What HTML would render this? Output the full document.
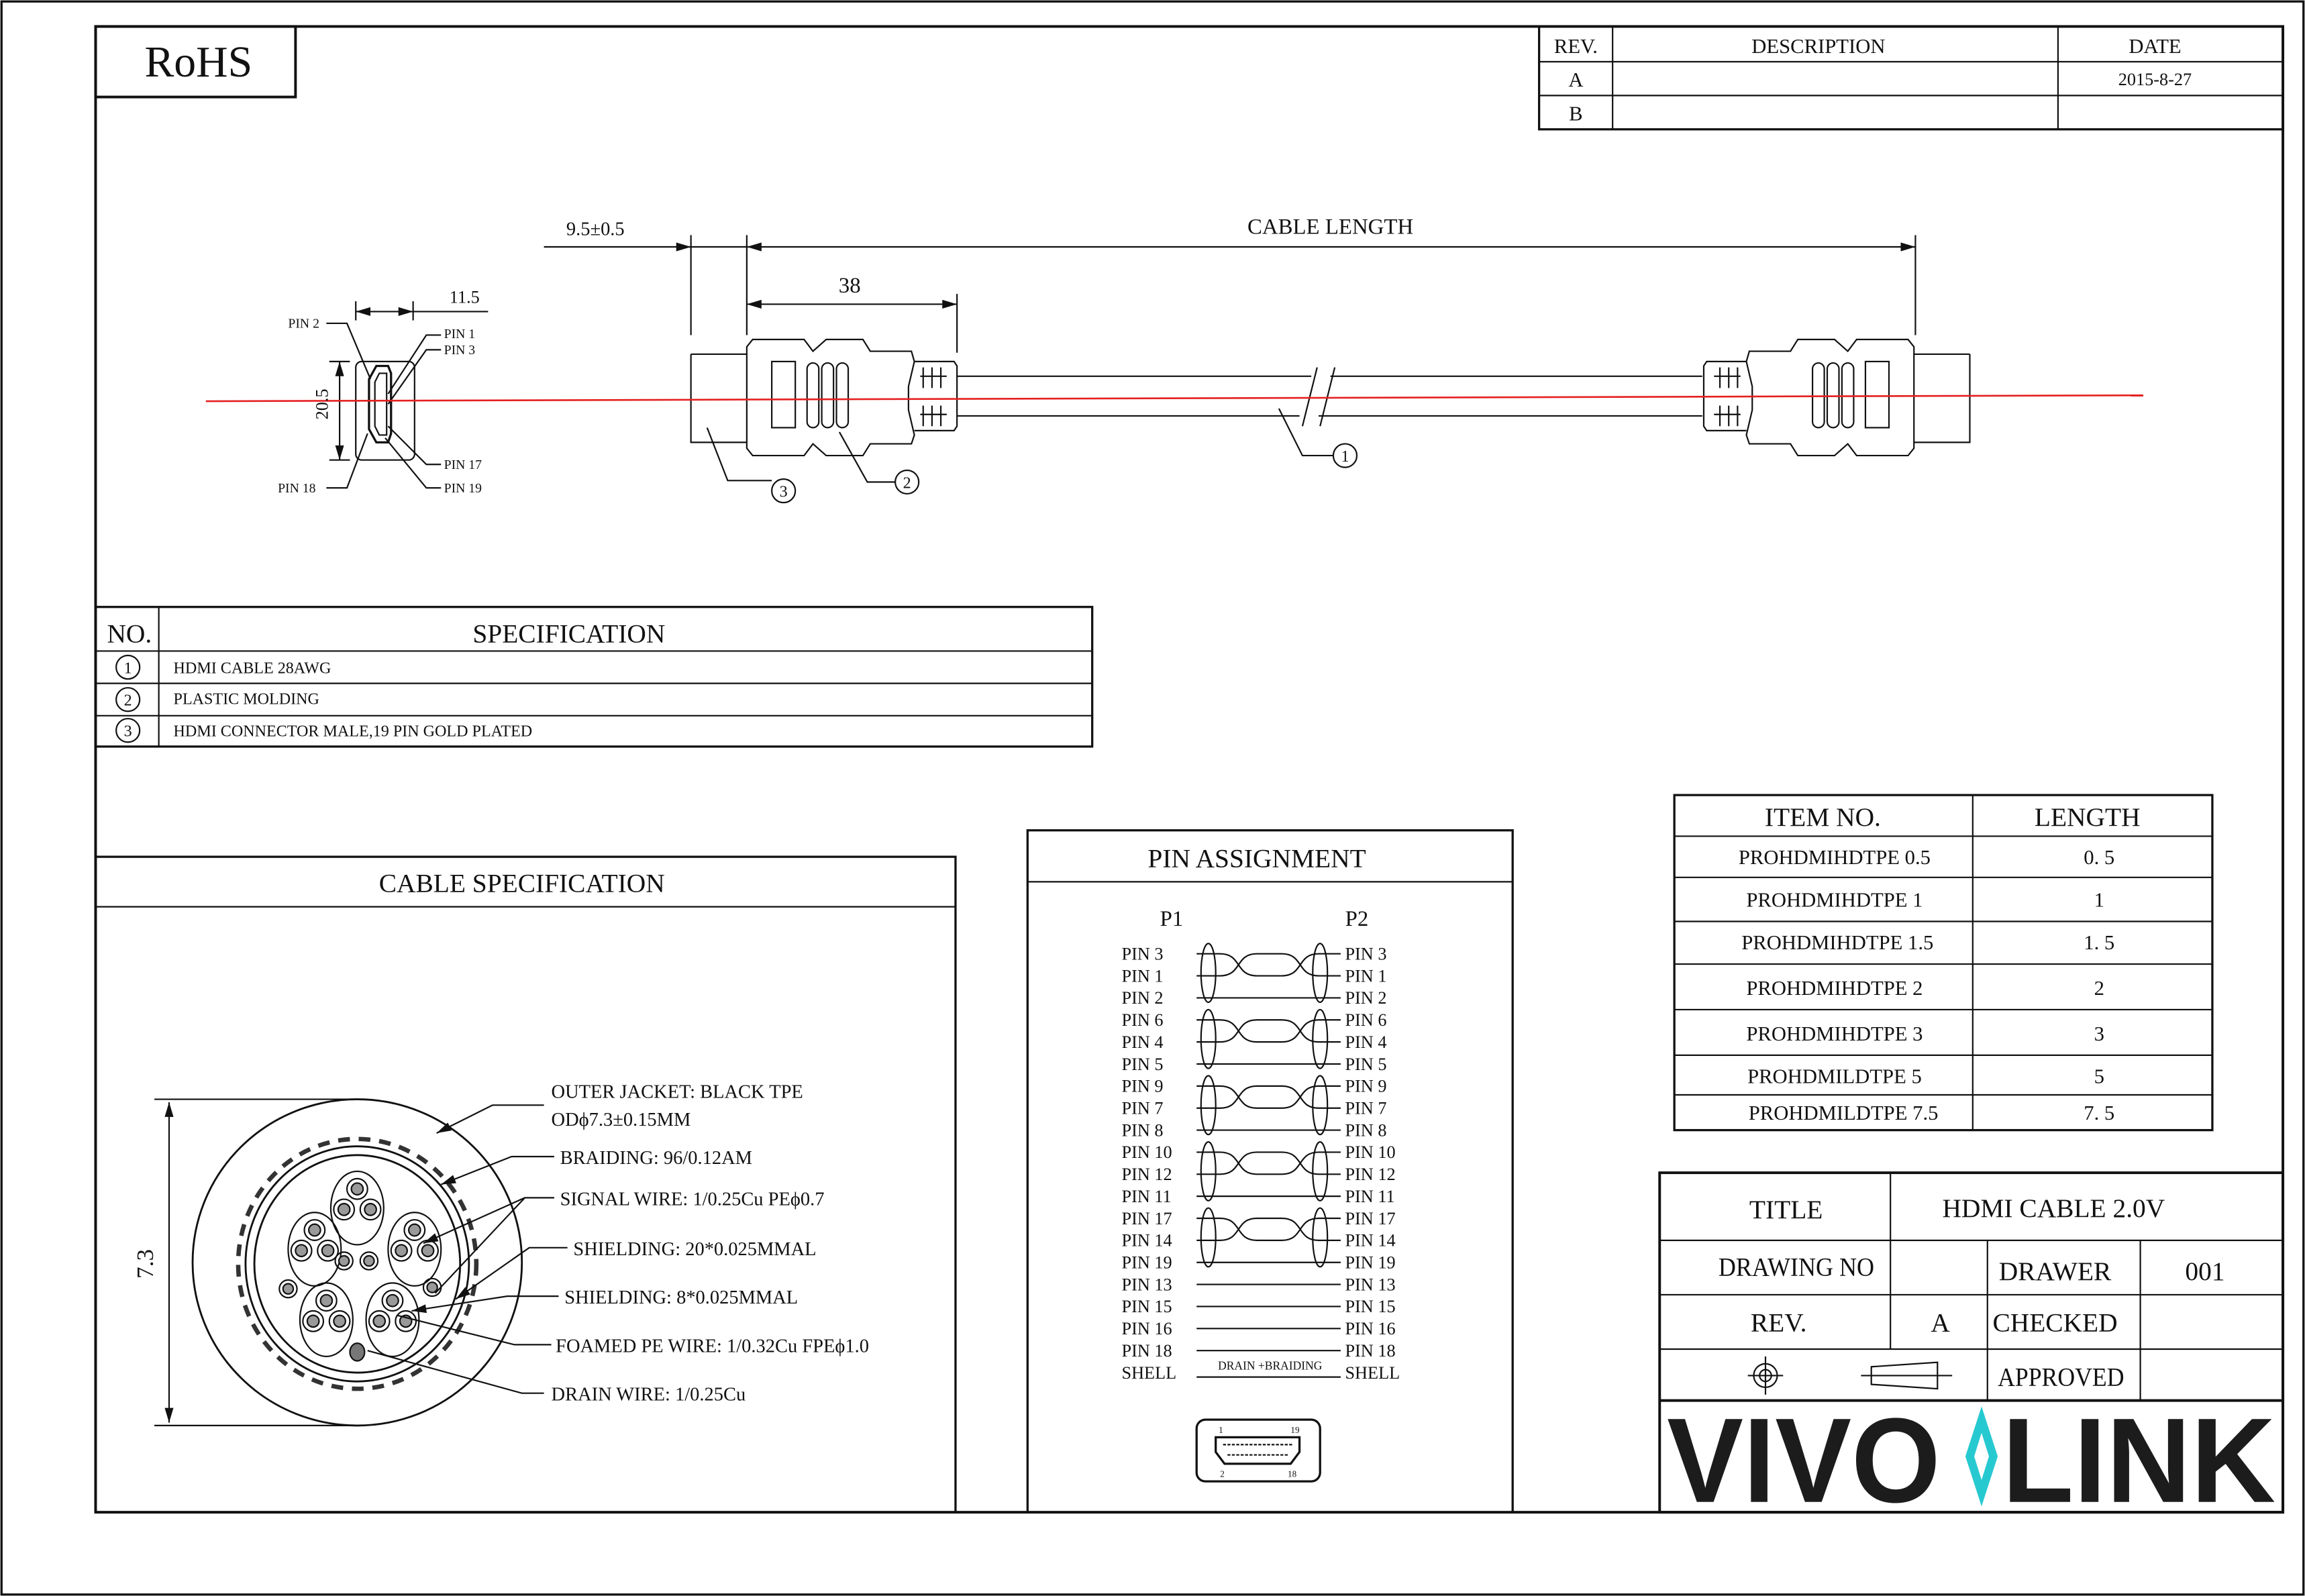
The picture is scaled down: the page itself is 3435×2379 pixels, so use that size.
<!DOCTYPE html>
<html><head><meta charset="utf-8"><style>
html,body{margin:0;padding:0;background:#fff}
svg{display:block}
text{font-family:"Liberation Serif","DejaVu Serif",serif;fill:#111}
.c{text-anchor:middle}
</style></head><body>
<svg width="3435" height="2379" viewBox="0 0 1568 1086" xmlns="http://www.w3.org/2000/svg">
<defs>
<marker id="ar" viewBox="0 0 10 6" refX="10" refY="3" markerWidth="10" markerHeight="6" orient="auto-start-reverse" markerUnits="userSpaceOnUse"><path d="M0,0 L10,3 L0,6 Z" fill="#111"/></marker>
</defs>
<g fill="none" stroke="#111">
<rect x="1" y="1" width="1566" height="1084" stroke-width="1.5"/>
<rect x="65" y="18" width="1488" height="1011" stroke-width="1.8"/>
<rect x="65" y="18" width="136" height="48" stroke-width="1.8"/>
<rect x="1047" y="18" width="506" height="70" stroke-width="1.5"/>
<line x1="1047" y1="42" x2="1553" y2="42"/><line x1="1047" y1="65" x2="1553" y2="65"/>
<line x1="1097" y1="18" x2="1097" y2="88"/><line x1="1400" y1="18" x2="1400" y2="88"/>
<rect x="65" y="413" width="678" height="95" stroke-width="1.5"/>
<line x1="65" y1="443" x2="743" y2="443"/><line x1="65" y1="465" x2="743" y2="465"/><line x1="65" y1="487" x2="743" y2="487"/>
<line x1="108" y1="413" x2="108" y2="508"/>
<circle cx="87" cy="454" r="8"/><circle cx="87" cy="476" r="8"/><circle cx="87" cy="497" r="8"/>
<rect x="65" y="583" width="585" height="446" stroke-width="1.5"/>
<line x1="65" y1="617" x2="650" y2="617"/>
<rect x="699" y="565" width="330" height="464" stroke-width="1.5"/>
<line x1="699" y1="600" x2="1029" y2="600"/>
<rect x="1139" y="541" width="366" height="228" stroke-width="1.5"/>
<line x1="1139" y1="569" x2="1505" y2="569"/><line x1="1139" y1="597" x2="1505" y2="597"/><line x1="1139" y1="627" x2="1505" y2="627"/><line x1="1139" y1="656" x2="1505" y2="656"/><line x1="1139" y1="687" x2="1505" y2="687"/><line x1="1139" y1="718" x2="1505" y2="718"/><line x1="1139" y1="745" x2="1505" y2="745"/>
<line x1="1342" y1="541" x2="1342" y2="769"/>
<rect x="1129" y="798" width="424" height="231" stroke-width="1.8"/>
<line x1="1129" y1="844" x2="1553" y2="844"/><line x1="1129" y1="881" x2="1553" y2="881"/><line x1="1129" y1="918" x2="1553" y2="918"/><line x1="1129" y1="953" x2="1553" y2="953" stroke-width="1.8"/>
<line x1="1286" y1="798" x2="1286" y2="918"/><line x1="1352" y1="844" x2="1352" y2="953"/><line x1="1456" y1="844" x2="1456" y2="953"/>
<circle cx="1201" cy="936" r="8"/><circle cx="1201" cy="936" r="4"/>
<line x1="1189" y1="936" x2="1213" y2="936"/><line x1="1201" y1="923" x2="1201" y2="949"/>
<path d="M1273,930 L1318,927 L1318,945 L1273,942 Z"/><line x1="1266" y1="936" x2="1328" y2="936"/>
</g>
<text x="1134" y="1022" font-weight="bold" font-size="82" textLength="186" lengthAdjust="spacingAndGlyphs" style="font-family:'Liberation Sans',sans-serif;fill:#1c1c1c">VIVO</text>
<path d="M1348,957 L1359,991 L1348,1025 L1337,991 Z M1348,975 L1343,991 L1348,1007 L1353,991 Z" fill="#27c9d1" fill-rule="evenodd"/>
<text x="1362" y="1022" font-weight="bold" font-size="82" textLength="186" lengthAdjust="spacingAndGlyphs" style="font-family:'Liberation Sans',sans-serif;fill:#1c1c1c">LINK</text>

<text x="135" y="52" class="c" font-size="30">RoHS</text>
<text x="1072" y="36" class="c" font-size="14">REV.</text>
<text x="1237" y="36" class="c" font-size="14">DESCRIPTION</text>
<text x="1466" y="36" class="c" font-size="14">DATE</text>
<text x="1072" y="59" class="c" font-size="14">A</text>
<text x="1466" y="58" class="c" font-size="12">2015-8-27</text>
<text x="1072" y="82" class="c" font-size="14">B</text>

<text x="88" y="437" class="c" font-size="18">NO.</text>
<text x="387" y="437" class="c" font-size="18">SPECIFICATION</text>
<text x="87" y="458" class="c" font-size="11">1</text><text x="87" y="480" class="c" font-size="11">2</text><text x="87" y="501" class="c" font-size="11">3</text>
<text x="118" y="458" font-size="11">HDMI CABLE 28AWG</text>
<text x="118" y="479" font-size="11">PLASTIC MOLDING</text>
<text x="118" y="501" font-size="11">HDMI CONNECTOR MALE,19 PIN GOLD PLATED</text>

<text x="355" y="607" class="c" font-size="18">CABLE SPECIFICATION</text>
<text x="855" y="590" class="c" font-size="18">PIN ASSIGNMENT</text>
<text x="797" y="630" class="c" font-size="15">P1</text>
<text x="923" y="630" class="c" font-size="15">P2</text>

<text x="1240" y="562" class="c" font-size="18">ITEM NO.</text>
<text x="1420" y="562" class="c" font-size="18">LENGTH</text>
<g font-size="14">
<text x="1248" y="588" class="c">PROHDMIHDTPE 0.5</text><text x="1428" y="588" class="c">0. 5</text>
<text x="1248" y="617" class="c">PROHDMIHDTPE 1</text><text x="1428" y="617" class="c">1</text>
<text x="1250" y="646" class="c">PROHDMIHDTPE 1.5</text><text x="1428" y="646" class="c">1. 5</text>
<text x="1248" y="677" class="c">PROHDMIHDTPE 2</text><text x="1428" y="677" class="c">2</text>
<text x="1248" y="708" class="c">PROHDMIHDTPE 3</text><text x="1428" y="708" class="c">3</text>
<text x="1248" y="737" class="c">PROHDMILDTPE 5</text><text x="1428" y="737" class="c">5</text>
<text x="1254" y="762" class="c">PROHDMILDTPE 7.5</text><text x="1428" y="762" class="c">7. 5</text>
</g>
<g font-size="18">
<text x="1215" y="829" class="c">TITLE</text>
<text x="1397" y="828" class="c">HDMI CABLE 2.0V</text>
<text x="1222" y="868" class="c" textLength="106" lengthAdjust="spacingAndGlyphs">DRAWING NO</text>
<text x="1398" y="871" class="c">DRAWER</text>
<text x="1500" y="871" class="c">001</text>
<text x="1210" y="906" class="c">REV.</text>
<text x="1320" y="906" class="c">A</text>
<text x="1398" y="906" class="c">CHECKED</text>
<text x="1402" y="943" class="c" textLength="86" lengthAdjust="spacingAndGlyphs">APPROVED</text>
</g>

<g stroke="#111" fill="none" stroke-width="1">
<line x1="370" y1="168" x2="470" y2="168" marker-end="url(#ar)"/>
<line x1="470" y1="168" x2="508" y2="168"/>
<line x1="508" y1="168" x2="1303" y2="168" marker-start="url(#ar)" marker-end="url(#ar)"/>
<line x1="470" y1="160" x2="470" y2="228"/><line x1="508" y1="160" x2="508" y2="228"/><line x1="1303" y1="160" x2="1303" y2="228"/>
<line x1="508" y1="207" x2="651" y2="207" marker-start="url(#ar)" marker-end="url(#ar)"/>
<line x1="651" y1="200" x2="651" y2="240"/>
<line x1="242" y1="212" x2="281" y2="212" marker-start="url(#ar)" marker-end="url(#ar)"/>
<line x1="281" y1="212" x2="332" y2="212"/>
<line x1="242" y1="205" x2="242" y2="218"/><line x1="281" y1="205" x2="281" y2="218"/>
<line x1="231" y1="246" x2="231" y2="313" marker-start="url(#ar)" marker-end="url(#ar)"/>
<line x1="224" y1="246" x2="238" y2="246"/><line x1="224" y1="313" x2="238" y2="313"/>
<rect x="242" y="246" width="40" height="67" rx="4"/>
<path d="M256,249 L264,249 L266,254 L266,295 L264,301 L256,301 L251,292 L251,258 Z" stroke-width="1.5"/>
<path d="M258,254 L263,254 L263,296 L258,296 L255,290 L255,260 Z"/>
<path d="M222,220 L236,220 L252,258 M222,332 L236,332 L250,295 M300,228 L290,228 L264,268 M300,238 L290,238 L264,275 M300,316 L290,316 L264,290 M300,332 L290,332 L262,298"/>
<path d="M470,241 L508,241 M470,241 L470,301 L508,301"/>
<path d="M508,236 L512,231 L547,231 L553,239 L562,231 L587,231 L592,239 L620,239 L622,246 L618,263 L618,279 L622,296 L620,302 L592,302 L587,310 L562,310 L553,302 L547,310 L512,310 L508,305 Z"/>
<rect x="525" y="246" width="16" height="45"/>
<rect x="549" y="247" width="8" height="44" rx="4"/><rect x="559" y="247" width="8" height="44" rx="4"/><rect x="569" y="247" width="8" height="44" rx="4"/>
<path d="M622,246 L649,246 L651,249 L651,290 L649,293 L622,293"/>
<path d="M628,250 v14 M634,250 v14 M640,250 v14 M628,276 v14 M634,276 v14 M640,276 v14 M626,256 h18 M626,282 h18"/>
<path d="M651,256 L892,256 M905,256 L1158,256 M651,283 L884,283 M897,283 L1158,283"/>
<path d="M886,290 L896,250 M898,290 L908,250"/>
<g transform="translate(1810,0) scale(-1,1)">
<path d="M470,241 L508,241 M470,241 L470,301 L508,301"/>
<path d="M508,236 L512,231 L547,231 L553,239 L562,231 L587,231 L592,239 L620,239 L622,246 L618,263 L618,279 L622,296 L620,302 L592,302 L587,310 L562,310 L553,302 L547,310 L512,310 L508,305 Z"/>
<rect x="525" y="246" width="16" height="45"/>
<rect x="549" y="247" width="8" height="44" rx="4"/><rect x="559" y="247" width="8" height="44" rx="4"/><rect x="569" y="247" width="8" height="44" rx="4"/>
<path d="M622,246 L649,246 L651,249 L651,290 L649,293 L622,293"/>
<path d="M628,250 v14 M634,250 v14 M640,250 v14 M628,276 v14 M634,276 v14 M640,276 v14 M626,256 h18 M626,282 h18"/>
</g>
<circle cx="533" cy="334" r="8"/><circle cx="617" cy="328" r="8"/><circle cx="915" cy="310" r="8"/>
<path d="M481,291 L495,327 L525,327 M571,294 L590,328 L609,328 M870,278 L886,310 L907,310"/>
</g>
<line x1="140" y1="273" x2="1458" y2="269" stroke="#e52020" stroke-width="1.2"/>
<text x="405" y="160" class="c" font-size="13">9.5±0.5</text>
<text x="905" y="159" class="c" font-size="15">CABLE LENGTH</text>
<text x="578" y="199" class="c" font-size="15">38</text>
<text x="316" y="206" class="c" font-size="12">11.5</text>
<text x="219" y="279" class="c" font-size="12" transform="rotate(-90 219 275)">20.5</text>
<g font-size="9">
<text x="196" y="223">PIN 2</text><text x="302" y="230">PIN 1</text><text x="302" y="241">PIN 3</text>
<text x="302" y="319">PIN 17</text><text x="302" y="335">PIN 19</text><text x="189" y="335">PIN 18</text>
</g>
<text x="533" y="338" class="c" font-size="11">3</text><text x="617" y="332" class="c" font-size="11">2</text><text x="915" y="314" class="c" font-size="11">1</text>

<g font-size="12">
<text x="763" y="653">PIN 3</text><text x="915" y="653">PIN 3</text>
<text x="763" y="668">PIN 1</text><text x="915" y="668">PIN 1</text>
<text x="763" y="683">PIN 2</text><text x="915" y="683">PIN 2</text>
<text x="763" y="698">PIN 6</text><text x="915" y="698">PIN 6</text>
<text x="763" y="713">PIN 4</text><text x="915" y="713">PIN 4</text>
<text x="763" y="728">PIN 5</text><text x="915" y="728">PIN 5</text>
<text x="763" y="743">PIN 9</text><text x="915" y="743">PIN 9</text>
<text x="763" y="758">PIN 7</text><text x="915" y="758">PIN 7</text>
<text x="763" y="773">PIN 8</text><text x="915" y="773">PIN 8</text>
<text x="763" y="788">PIN 10</text><text x="915" y="788">PIN 10</text>
<text x="763" y="803">PIN 12</text><text x="915" y="803">PIN 12</text>
<text x="763" y="818">PIN 11</text><text x="915" y="818">PIN 11</text>
<text x="763" y="833">PIN 17</text><text x="915" y="833">PIN 17</text>
<text x="763" y="848">PIN 14</text><text x="915" y="848">PIN 14</text>
<text x="763" y="863">PIN 19</text><text x="915" y="863">PIN 19</text>
<text x="763" y="878">PIN 13</text><text x="915" y="878">PIN 13</text>
<text x="763" y="893">PIN 15</text><text x="915" y="893">PIN 15</text>
<text x="763" y="908">PIN 16</text><text x="915" y="908">PIN 16</text>
<text x="763" y="923">PIN 18</text><text x="915" y="923">PIN 18</text>
<text x="763" y="938">SHELL</text><text x="915" y="938">SHELL</text>
</g>
<text x="864" y="932" class="c" font-size="8">DRAIN +BRAIDING</text>
<g fill="none" stroke="#111" stroke-width="1">
<g id="tp">
<path d="M814,649 L830,649 C845,649 840,664 855,664 L872,664 C887,664 882,649 897,649 L912,649"/>
<path d="M814,664 L830,664 C845,664 840,649 855,649 L872,649 C887,649 882,664 897,664 L912,664"/>
<line x1="814" y1="679" x2="912" y2="679"/>
<ellipse cx="822" cy="662" rx="5" ry="20"/><ellipse cx="898" cy="662" rx="5" ry="20"/>
</g>
<use href="#tp" y="45"/><use href="#tp" y="90"/><use href="#tp" y="135"/><use href="#tp" y="180"/>
<line x1="814" y1="874" x2="912" y2="874"/><line x1="814" y1="889" x2="912" y2="889"/><line x1="814" y1="904" x2="912" y2="904"/><line x1="814" y1="919" x2="912" y2="919"/>
<line x1="814" y1="937" x2="912" y2="937"/>
<rect x="814" y="966" width="84" height="42" rx="6" stroke-width="1.5"/>
<path d="M827,978 L884,978 L884,988 L878,996 L833,996 L827,988 Z" stroke-width="1.5"/>
<path d="M832,983 h47 M835,990 h41" stroke-dasharray="2 1"/>
</g>
<g font-size="6"><text x="829" y="975">1</text><text x="878" y="975">19</text><text x="830" y="1005">2</text><text x="876" y="1005">18</text></g>

<g fill="none" stroke="#111" stroke-width="1">
<line x1="105" y1="748" x2="245" y2="748"/><line x1="105" y1="970" x2="245" y2="970"/>
<line x1="115" y1="750" x2="115" y2="968" marker-start="url(#ar)" marker-end="url(#ar)"/>
<ellipse cx="243" cy="859" rx="112" ry="111" stroke-width="1.3"/>
<ellipse cx="243" cy="860" rx="81" ry="85" stroke-width="3" stroke-dasharray="8 6" stroke="#333"/>
<ellipse cx="243" cy="860" rx="76" ry="80" stroke-width="1.3"/>
<ellipse cx="243" cy="860" rx="70" ry="74" stroke-width="1.3"/>
<g id="grp">
<ellipse cx="243" cy="822" rx="18" ry="25"/>
<circle cx="243" cy="809" r="7"/><circle cx="234" cy="823" r="7"/><circle cx="252" cy="823" r="7"/>
<circle cx="243" cy="809" r="4" fill="#999"/><circle cx="234" cy="823" r="4" fill="#999"/><circle cx="252" cy="823" r="4" fill="#999"/>
</g>
<use href="#grp" x="-29" y="28"/><use href="#grp" x="39" y="28"/><use href="#grp" x="-21" y="76"/><use href="#grp" x="24" y="76"/>
<circle cx="234" cy="858" r="6"/><circle cx="251" cy="858" r="6"/><circle cx="196" cy="877" r="6"/><circle cx="294" cy="876" r="6"/>
<circle cx="234" cy="858" r="3.5" fill="#999"/><circle cx="251" cy="858" r="3.5" fill="#999"/><circle cx="196" cy="877" r="3.5" fill="#999"/><circle cx="294" cy="876" r="3.5" fill="#999"/>
<ellipse cx="243" cy="920" rx="5" ry="6" fill="#777"/>
<path d="M370,752 L335,752 L297,771" marker-end="url(#ar)"/>
<path d="M377,787 L348,787 L300,806" marker-end="url(#ar)"/>
<path d="M377,815 L357,815 L288,846" marker-end="url(#ar)"/>
<path d="M357,815 L296,880"/>
<path d="M386,849 L360,849 L310,884" marker-end="url(#ar)"/>
<path d="M380,882 L345,882 L280,892" marker-end="url(#ar)"/>
<path d="M375,915 L350,915 L270,895"/>
<path d="M370,948 L355,948 L250,919"/>
</g>
<text x="104" y="860" class="c" font-size="16" transform="rotate(-90 104 860)">7.3</text>
<g font-size="13">
<text x="375" y="747">OUTER JACKET: BLACK TPE</text>
<text x="375" y="766">ODϕ7.3±0.15MM</text>
<text x="381" y="792">BRAIDING: 96/0.12AM</text>
<text x="381" y="820">SIGNAL WIRE: 1/0.25Cu PEϕ0.7</text>
<text x="390" y="854">SHIELDING: 20*0.025MMAL</text>
<text x="384" y="887">SHIELDING: 8*0.025MMAL</text>
<text x="378" y="920">FOAMED PE WIRE: 1/0.32Cu FPEϕ1.0</text>
<text x="375" y="953">DRAIN WIRE: 1/0.25Cu</text>
</g>
</svg>
</body></html>
